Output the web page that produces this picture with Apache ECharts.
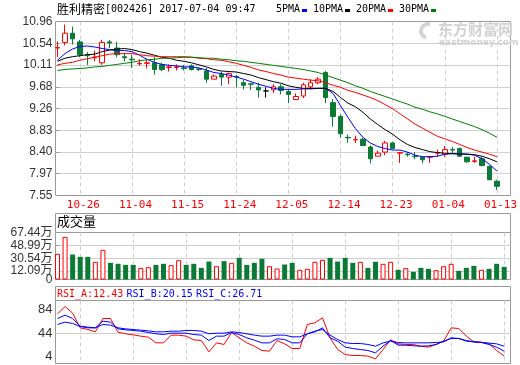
<!DOCTYPE html>
<html><head><meta charset="utf-8">
<script src="https://cdn.jsdelivr.net/npm/echarts@6/dist/echarts.min.js"></script>
<style>html,body{margin:0;padding:0;background:#fff}#c{width:520px;height:365px}</style>
</head><body><div id="c"></div>
<script>
const dates = ['10-21','10-24','10-25','10-26','10-27','10-28','10-31','11-01','11-02','11-03','11-04','11-07','11-08','11-09','11-10','11-11','11-14','11-15','11-16','11-17','11-18','11-21','11-22','11-23','11-24','11-25','11-28','11-29','11-30','12-01','12-02','12-05','12-06','12-07','12-08','12-09','12-12','12-13','12-14','12-15','12-16','12-19','12-20','12-21','12-22','12-23','12-26','12-27','12-28','12-29','12-30','01-03','01-04','01-05','01-06','01-09','01-10','01-11','01-12','01-13'];
const labelDates = ['10-26','11-04','11-15','11-24','12-05','12-14','12-23','01-04','01-13'];

const opens  = [10.44,10.55,10.73,10.56,10.31,10.25,10.15,10.56,10.44,10.27,10.22,10.13,10.14,10.15,10.11,10.06,10.06,10.05,10.09,10.03,9.99,9.83,9.92,9.87,9.88,9.76,9.74,9.67,9.60,9.62,9.68,9.59,9.43,9.50,9.68,9.76,9.96,9.37,9.10,8.69,8.64,8.65,8.50,8.32,8.40,8.58,8.38,8.36,8.32,8.30,8.30,8.38,8.36,8.45,8.47,8.30,8.22,8.27,8.12,7.83];
const closes = [10.45,10.73,10.62,10.31,10.29,10.26,10.55,10.54,10.31,10.25,10.21,10.14,10.15,10.02,10.02,10.07,10.07,10.04,10.02,10.02,9.83,9.89,9.87,9.94,9.87,9.71,9.73,9.62,9.60,9.68,9.61,9.53,9.49,9.72,9.76,9.83,9.47,9.10,8.76,8.68,8.65,8.53,8.27,8.38,8.58,8.47,8.39,8.35,8.31,8.25,8.31,8.39,8.45,8.44,8.32,8.21,8.23,8.14,7.86,7.73];
const highs  = [10.57,10.90,10.86,10.60,10.36,10.39,10.60,10.60,10.56,10.35,10.31,10.22,10.22,10.26,10.15,10.12,10.12,10.11,10.12,10.05,10.05,9.92,9.98,9.96,9.91,9.81,9.76,9.76,9.67,9.73,9.73,9.64,9.55,9.76,9.83,9.87,9.99,9.44,9.14,8.74,8.72,8.68,8.53,8.43,8.62,8.60,8.40,8.40,8.40,8.31,8.31,8.45,8.52,8.50,8.49,8.31,8.31,8.31,8.14,7.86];
const lows   = [10.26,10.49,10.51,10.26,10.11,10.18,10.11,10.44,10.26,10.18,10.05,10.10,10.04,9.92,9.99,9.98,10.00,10.00,10.00,9.99,9.76,9.83,9.70,9.73,9.67,9.63,9.62,9.47,9.47,9.56,9.53,9.36,9.43,9.46,9.63,9.73,9.36,8.90,8.68,8.58,8.58,8.52,8.18,8.32,8.34,8.47,8.19,8.31,8.26,8.18,8.19,8.31,8.31,8.38,8.31,8.19,8.19,8.12,7.85,7.66];

const ma5  = [10.20,10.33,10.42,10.47,10.48,10.46,10.43,10.41,10.39,10.39,10.37,10.30,10.22,10.16,10.12,10.10,10.09,10.07,10.07,10.05,10.01,9.96,9.94,9.91,9.87,9.83,9.78,9.73,9.69,9.65,9.63,9.63,9.63,9.64,9.64,9.65,9.65,9.55,9.31,9.08,8.86,8.69,8.58,8.51,8.47,8.44,8.44,8.40,8.34,8.31,8.31,8.32,8.36,8.37,8.37,8.36,8.34,8.27,8.16,8.03];
const ma10 = [10.18,10.24,10.27,10.29,10.31,10.32,10.37,10.40,10.42,10.43,10.41,10.37,10.34,10.30,10.26,10.24,10.20,10.18,10.15,10.11,10.07,10.02,9.99,9.98,9.97,9.94,9.91,9.86,9.82,9.78,9.75,9.70,9.67,9.65,9.65,9.65,9.65,9.59,9.47,9.36,9.29,9.18,9.05,8.94,8.84,8.75,8.64,8.55,8.49,8.45,8.41,8.39,8.38,8.37,8.36,8.36,8.35,8.32,8.27,8.21];
const ma20 = [10.11,10.14,10.16,10.20,10.23,10.26,10.29,10.32,10.33,10.33,10.33,10.31,10.29,10.28,10.27,10.27,10.27,10.27,10.26,10.24,10.23,10.21,10.20,10.17,10.14,10.10,10.06,10.01,9.98,9.94,9.91,9.87,9.85,9.83,9.81,9.80,9.76,9.71,9.67,9.61,9.57,9.52,9.47,9.41,9.33,9.25,9.15,9.05,8.95,8.87,8.79,8.71,8.66,8.61,8.55,8.49,8.44,8.40,8.36,8.31];
const ma30 = [10.00,10.02,10.03,10.04,10.05,10.07,10.08,10.10,10.12,10.14,10.16,10.19,10.21,10.22,10.24,10.24,10.25,10.26,10.26,10.25,10.24,10.24,10.22,10.21,10.19,10.18,10.16,10.14,10.12,10.10,10.08,10.06,10.04,10.02,9.99,9.96,9.91,9.86,9.81,9.76,9.70,9.65,9.59,9.54,9.49,9.44,9.39,9.34,9.28,9.24,9.19,9.15,9.10,9.05,9.00,8.95,8.90,8.84,8.77,8.69];

const volumes = [36.8,61.2,35.9,32.5,32.5,25.4,42.6,23.9,22.5,21.0,21.0,16.7,17.7,21.0,22.5,20.6,27.7,21.0,22.5,16.7,25.8,19.1,26.3,23.9,31.1,21.0,23.9,29.7,19.1,15.8,21.5,23.9,13.9,15.3,25.4,28.2,31.1,25.8,31.1,23.9,25.4,16.7,25.4,22.5,25.4,13.9,16.3,11.0,16.7,15.3,13.4,19.1,22.5,12.4,16.7,19.6,13.9,15.3,22.5,18.2];

const rsiA = [77.1,89.7,78.3,53.1,50.3,46.3,69.1,69.1,45.7,42.9,41.1,38.9,37.1,27.4,27.4,40.6,40.6,38.9,32.6,31.4,12.0,27.4,24.6,45.1,36.0,27.4,21.7,14.3,13.1,31.4,25.7,17.7,17.7,58.9,61.7,70.3,36.0,16.0,7.4,5.7,5.7,4.6,0,16.0,32.6,25.7,24.6,24.6,21.7,20.0,24.6,30.3,53.1,52.0,38.9,29.1,28.6,25.7,14.3,4.6];
const rsiB = [69.1,74.9,69.1,56.0,54.3,53.1,64.6,62.9,51.4,49.7,48.6,47.4,45.1,42.9,41.7,44.0,44.0,44.0,41.7,40.6,31.4,38.9,38.9,45.1,41.7,36.0,32.0,27.4,27.4,34.3,33.1,27.4,27.4,42.9,46.3,53.1,36.0,30.3,20.0,17.7,16.0,14.3,10.3,21.7,31.4,23.4,23.4,22.3,21.7,22.3,24.6,30.3,34.9,34.9,30.3,29.1,28.0,24.6,20.0,13.1];
const rsiC = [58.9,62.9,60.6,55.4,53.1,53.1,58.9,57.7,53.1,51.4,50.3,49.1,48.0,46.3,46.3,47.4,47.4,48.6,48.6,47.4,42.9,44.0,44.0,46.3,45.1,42.9,40.6,38.9,38.9,40.6,40.6,37.7,37.7,42.9,47.4,50.3,40.6,33.1,27.4,26.3,26.3,24.6,21.7,27.4,30.3,28.0,27.4,27.4,27.4,27.4,28.0,29.1,36.0,34.9,31.4,29.1,28.0,26.9,25.7,21.7];

const priceTicks = ['10.96','10.54','10.11','9.68','9.26','8.83','8.40','7.97','7.55'];
const volTicks = ['67.44万','48.99万','30.54万','12.09万','0'];
const rsiTicks = ['84','44','4'];
const rsiRange = [-8, 100];

const RED = '#ff0000', GREEN = '#0a7a34', GRIDC = '#cfcfcf', FRAME = '#9a9a9a';
const pMax = parseFloat(priceTicks[0]), pMin = parseFloat(priceTicks[priceTicks.length - 1]);
const pStep = (pMax - pMin) / (priceTicks.length - 1);
const pVals = priceTicks.map((t, k) => pMax - k * pStep);
const vVals = volTicks.map(t => parseFloat(t));
const rVals = rsiTicks.map(t => parseFloat(t));
const labelIdx = labelDates.map(d => dates.indexOf(d));

const chart = echarts.init(document.getElementById('c'), null, {renderer: 'canvas'});
const L = 57.5, R = 15.8, FL = 55.5, FR = 9.5;
const panels = [{top: 21.5, h: 174}, {top: 232.5, h: 47}, {top: 300.5, h: 63}];

const dataX = (gi, showLabel) => ({
  type: 'category', gridIndex: gi, data: dates, boundaryGap: false,
  axisLine: {show: false}, axisTick: {show: false},
  axisLabel: showLabel ? {
    show: true, interval: (i) => labelIdx.indexOf(i) >= 0, color: RED,
    fontFamily: 'DejaVu Sans Mono', fontSize: 11, margin: 4, padding: [0, 0, 0, 7]
  } : {show: false},
  splitLine: {show: true, interval: (i) => labelIdx.indexOf(i) >= 0, lineStyle: {color: GRIDC, type: [4, 3], width: 1}}
});
const frameX = (gi) => ({type: 'value', gridIndex: gi, min: 0, max: 1, show: false});

const labelFont = {color: '#333', fontFamily: 'Liberation Sans, Noto Sans CJK SC', fontSize: 12, margin: 3,
  showMinLabel: true, showMaxLabel: true, hideOverlap: false};
const volMain = vVals.slice(0, -1), volZero = vVals.slice(-1);

const option = {
  animation: false,
  backgroundColor: '#fff',
  grid: [
    {left: L, right: R, top: panels[0].top, height: panels[0].h},
    {left: L, right: R, top: panels[1].top, height: panels[1].h},
    {left: L, right: R, top: panels[2].top, height: panels[2].h},
    {left: FL, right: FR, top: panels[0].top, height: panels[0].h, show: true, borderColor: FRAME, borderWidth: 1},
    {left: FL, right: FR, top: panels[1].top, height: panels[1].h, show: true, borderColor: FRAME, borderWidth: 1},
    {left: FL, right: FR, top: panels[2].top, height: panels[2].h, show: true, borderColor: FRAME, borderWidth: 1}
  ],
  xAxis: [dataX(0, true), dataX(1, false), dataX(2, false), frameX(3), frameX(4), frameX(5)],
  yAxis: [
    {type: 'value', gridIndex: 0, min: pMin, max: pMax, show: false},
    {type: 'value', gridIndex: 1, min: 0, max: vVals[0], show: false},
    {type: 'value', gridIndex: 2, min: rsiRange[0], max: rsiRange[1], show: false},
    {type: 'value', gridIndex: 3, min: pMin, max: pMax, position: 'left',
      axisLine: {show: false},
      axisTick: {show: true, inside: true, length: 4, lineStyle: {color: FRAME}, customValues: pVals.slice(1, -1)},
      axisLabel: Object.assign({customValues: pVals, formatter: (v) => priceTicks[Math.round((pMax - v) / pStep)]}, labelFont),
      splitLine: {show: true, lineStyle: {color: GRIDC, width: 1}}},
    {type: 'value', gridIndex: 4, min: 0, max: vVals[0], position: 'left',
      axisLine: {show: false},
      axisTick: {show: true, inside: true, length: 4, lineStyle: {color: FRAME}, customValues: vVals.slice(1, -1)},
      axisLabel: Object.assign({customValues: volMain, formatter: (v) => volTicks[vVals.indexOf(v)]}, labelFont),
      splitLine: {show: true, lineStyle: {color: GRIDC, width: 1}}},
    {type: 'value', gridIndex: 5, min: rsiRange[0], max: rsiRange[1], position: 'left',
      axisLine: {show: false},
      axisTick: {show: false, customValues: [rVals[1]]},
      axisLabel: Object.assign({customValues: rVals, formatter: (v) => rsiTicks[rVals.indexOf(v)]}, labelFont, {fontSize: 13}),
      splitLine: {show: true, lineStyle: {color: GRIDC, width: 1}}},
    {type: 'value', gridIndex: 4, min: 0, max: vVals[0], position: 'left', offset: 0,
      axisLine: {show: false, onZero: false}, axisTick: {show: false}, splitLine: {show: false},
      axisLabel: Object.assign({customValues: volZero, formatter: (v) => volTicks[vVals.indexOf(v)]}, labelFont)}
  ],
  graphic: [
    {type: 'arc', z: 0, shape: {cx: 428, cy: 31, r: 7, startAngle: Math.PI * 0.6, endAngle: Math.PI * 1.6}, style: {stroke: '#d4d4d4', lineWidth: 4, fill: 'none'}},
    {type: 'text', left: 438, top: 22, z: 0, style: {text: '东方财富网', fill: '#d2d2d2', font: 'bold 15px "Noto Sans CJK SC"'}},
    {type: 'text', left: 439, top: 38, z: 0, style: {text: 'eastmoney.com', fill: '#d2d2d2', font: 'bold 9px "DejaVu Sans"'}},
    {type: 'text', left: 57, top: 3, style: {text: '{a|胜利精密}{b|[002426] 2017-07-04 09:47}', rich: {
      a: {fontFamily: 'Noto Sans CJK SC', fontSize: 12, fill: '#000', color: '#000'},
      b: {fontFamily: 'DejaVu Sans Mono', fontSize: 10, fill: '#000', color: '#000'}}}},
    {type: 'text', left: 276, top: 4, style: {text: '5PMA', font: '10px "DejaVu Sans Mono"', fill: '#000'}},
    {type: 'rect', shape: {x: 302, y: 9, width: 5, height: 3}, style: {fill: '#0000ff'}},
    {type: 'text', left: 313, top: 4, style: {text: '10PMA', font: '10px "DejaVu Sans Mono"', fill: '#000'}},
    {type: 'rect', shape: {x: 345, y: 9, width: 5, height: 3}, style: {fill: '#000'}},
    {type: 'text', left: 356, top: 4, style: {text: '20PMA', font: '10px "DejaVu Sans Mono"', fill: '#000'}},
    {type: 'rect', shape: {x: 388, y: 9, width: 5, height: 3}, style: {fill: '#ff0000'}},
    {type: 'text', left: 399, top: 4, style: {text: '30PMA', font: '10px "DejaVu Sans Mono"', fill: '#000'}},
    {type: 'rect', shape: {x: 431, y: 9, width: 5, height: 3}, style: {fill: '#008000'}},
    {type: 'rect', shape: {x: 55.5, y: 213.5, width: 455, height: 19}, style: {fill: 'none', stroke: FRAME, lineWidth: 1}},
    {type: 'text', left: 57, top: 215, style: {text: '成交量', font: '13px "Noto Sans CJK SC"', fill: '#000'}},
    {type: 'rect', shape: {x: 55.5, y: 286.5, width: 455, height: 14}, style: {fill: 'none', stroke: FRAME, lineWidth: 1}},
    {type: 'text', left: 57, top: 288, style: {text: '{r|RSI_A:12.43} {b|RSI_B:20.15} {b|RSI_C:26.71}', rich: {
      r: {fontFamily: 'DejaVu Sans Mono', fontSize: 10, fill: RED, color: RED},
      b: {fontFamily: 'DejaVu Sans Mono', fontSize: 10, fill: '#0000ff', color: '#0000ff'}}}}
  ],
  series: [
    {type: 'candlestick', xAxisIndex: 0, yAxisIndex: 0, barWidth: 5, clip: false,
      data: opens.map((o, i) => [o, closes[i], lows[i], highs[i]]),
      itemStyle: {color: '#fff', color0: GREEN, borderColor: RED, borderColor0: GREEN, borderColorDoji: '#000', borderWidth: 1}},
    {type: 'line', xAxisIndex: 0, yAxisIndex: 0, data: ma5, showSymbol: false, lineStyle: {color: '#0000ff', width: 1}, z: 3},
    {type: 'line', xAxisIndex: 0, yAxisIndex: 0, data: ma10, showSymbol: false, lineStyle: {color: '#000', width: 1}, z: 3},
    {type: 'line', xAxisIndex: 0, yAxisIndex: 0, data: ma20, showSymbol: false, lineStyle: {color: '#ff0000', width: 1}, z: 3},
    {type: 'line', xAxisIndex: 0, yAxisIndex: 0, data: ma30, showSymbol: false, lineStyle: {color: '#008000', width: 1}, z: 3},
    {type: 'bar', xAxisIndex: 1, yAxisIndex: 1, barWidth: 5, clip: false,
      data: volumes.map((v, i) => ({value: v, itemStyle: closes[i] >= opens[i]
        ? {color: '#fff', borderColor: RED, borderWidth: 1}
        : {color: GREEN, borderWidth: 0}}))},
    {type: 'line', xAxisIndex: 2, yAxisIndex: 2, data: rsiA, showSymbol: false, lineStyle: {color: RED, width: 1}, z: 3},
    {type: 'line', xAxisIndex: 2, yAxisIndex: 2, data: rsiB, showSymbol: false, lineStyle: {color: '#0000ff', width: 1}},
    {type: 'line', xAxisIndex: 2, yAxisIndex: 2, data: rsiC, showSymbol: false, lineStyle: {color: '#0000ff', width: 1}}
  ]
};
chart.setOption(option);
</script></body></html>
